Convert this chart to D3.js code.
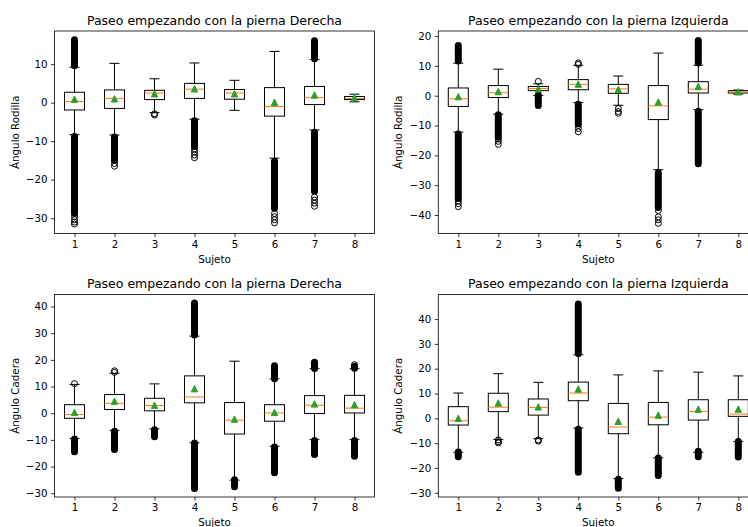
<!DOCTYPE html>
<html>
<head>
<meta charset="utf-8">
<script src="https://cdn.jsdelivr.net/npm/d3@7"></script>
<style>
  html, body { margin: 0; padding: 0; background: #fff; }
  svg { display: block; }
  text { font-family: "DejaVu Sans", sans-serif; fill: #000; }
</style>
</head>
<body>
<svg id="chart" width="748" height="527"></svg>
<script>
// Sujetos (categorías del eje x)
const subjects = [1, 2, 3, 4, 5, 6, 7, 8];

// Ángulo Rodilla — pierna Derecha
const rodDerQ1   = [-1.9, -1.5, 0.8, 1.1, 0.9, -3.5, -0.5, 0.8];
const rodDerMed  = [0.3, 1.1, 2.5, 3.5, 2.5, -1.0, 1.3, 1.1];
const rodDerQ3   = [2.7, 3.3, 3.2, 5.0, 3.4, 3.9, 4.2, 1.6];
const rodDerLo   = [-8.3, -8.4, -2.6, -4.3, -2.0, -14.4, -7.1, 0.2];
const rodDerHi   = [9.2, 10.2, 6.2, 10.3, 5.8, 13.3, 11.2, 2.2];
const rodDerMean = [0.9, 1.0, 2.3, 3.6, 2.3, 0.1, 2.0, 1.3];
// atípicos: tramos densos [sujeto, desde, hasta] y puntos sueltos [sujeto, valor]
const rodDerBands = [[1, 9.6, 16.3], [1, -8.8, -28.8], [2, -8.9, -15.0], [4, -4.7, -11.4],
                     [6, -15.2, -27.4], [7, 11.4, 16.1], [7, -7.7, -23.0]];
const rodDerPoints = [[1, -29.6], [1, -30.4], [1, -31.0], [1, -31.5], [2, -15.8], [2, -16.5],
                      [3, -2.9], [3, -3.2], [4, -12.0], [4, -12.8], [4, -13.6], [4, -14.3],
                      [6, -28.8], [6, -29.6], [6, -30.4], [6, -31.2],
                      [7, -24.5], [7, -25.3], [7, -26.1], [7, -26.9]];

// Ángulo Rodilla — pierna Izquierda
const rodIzqQ1   = [-3.6, -0.6, 1.7, 2.0, 0.8, -8.0, 0.9, 0.9];
const rodIzqMed  = [-1.0, 1.0, 2.4, 3.8, 2.3, -3.4, 2.2, 1.3];
const rodIzqQ3   = [2.6, 3.4, 3.1, 5.4, 3.8, 3.4, 4.7, 1.7];
const rodIzqLo   = [-12.2, -6.2, 0.1, -2.3, -3.2, -24.8, -4.7, 0.5];
const rodIzqHi   = [10.9, 8.9, 4.0, 10.2, 6.6, 14.3, 10.2, 1.9];
const rodIzqMean = [-0.3, 1.4, 2.3, 3.9, 2.1, -2.1, 3.1, 1.3];
const rodIzqBands = [[1, 11.6, 16.8], [1, -12.8, -34.5], [2, -6.4, -13.9], [3, 0.2, -3.3],
                     [4, -2.9, -9.4], [6, -25.8, -37.5], [7, 11.0, 18.5], [7, -5.2, -22.8]];
const rodIzqPoints = [[1, -35.3], [1, -36.2], [1, -37.2], [2, -14.5], [2, -15.3], [2, -16.3],
                      [3, 4.8], [4, 10.5], [4, 11.0], [4, -10.0], [4, -11.0], [4, -12.1],
                      [5, -4.3], [5, -5.3], [5, -5.9],
                      [6, -38.5], [6, -40.6], [6, -41.6], [6, -42.8]];

// Ángulo Cadera — pierna Derecha
const cadDerQ1   = [-1.9, 1.4, 0.9, 3.9, -7.8, -3.0, -0.1, 0.1];
const cadDerMed  = [-0.5, 3.7, 2.9, 6.1, -2.6, 0.1, 3.0, 1.9];
const cadDerQ3   = [3.2, 7.0, 5.6, 14.0, 4.0, 3.2, 6.6, 6.7];
const cadDerLo   = [-9.5, -6.4, -5.9, -11.1, -25.1, -12.4, -9.9, -9.9];
const cadDerHi   = [10.8, 15.0, 11.0, 28.9, 19.5, 12.9, 16.7, 16.7];
const cadDerMean = [0.3, 4.5, 3.0, 9.2, -2.2, 0.3, 3.5, 3.2];
const cadDerBands = [[1, -9.7, -14.4], [2, -6.8, -13.6], [3, -6.2, -8.8], [4, 29.3, 41.3],
                     [4, -11.2, -28.2], [5, -24.9, -27.6], [6, 12.9, 17.8], [6, -12.7, -22.3],
                     [7, 16.8, 19.1], [7, -10.2, -15.5], [8, 16.9, 17.6], [8, -10.2, -16.1]];
const cadDerPoints = [[1, 11.1], [2, 15.3], [2, 15.9], [8, 18.2]];

// Ángulo Cadera — pierna Izquierda
const cadIzqQ1   = [-2.7, 2.7, 1.3, 7.1, -6.2, -2.6, -0.7, 0.8];
const cadIzqMed  = [-1.0, 4.5, 4.4, 10.2, -3.5, 0.5, 2.8, 1.7];
const cadIzqQ3   = [4.7, 10.1, 7.8, 14.6, 6.0, 6.4, 7.5, 7.5];
const cadIzqLo   = [-13.7, -8.5, -8.2, -3.9, -24.3, -15.9, -13.7, -9.3];
const cadIzqHi   = [10.2, 18.0, 14.5, 25.6, 17.5, 19.1, 18.6, 17.1];
const cadIzqMean = [0.0, 6.2, 4.6, 11.8, -1.2, 1.3, 3.7, 3.7];
const cadIzqBands = [[1, -13.6, -15.5], [4, 26.1, 46.1], [4, -4.4, -21.7], [5, -24.5, -28.2],
                     [6, -16.0, -23.0], [7, -13.3, -15.5], [8, -9.3, -15.6]];
const cadIzqPoints = [[1, -14.6], [2, -8.7], [2, -9.4], [2, -9.9], [3, -8.7], [3, -9.2]];

// Marcas del eje y
const rodDerTicks = [-30, -20, -10, 0, 10];
const rodIzqTicks = [-40, -30, -20, -10, 0, 10, 20];
const cadTicks    = [-30, -20, -10, 0, 10, 20, 30, 40];

const titleDer = "Paseo empezando con la pierna Derecha";
const titleIzq = "Paseo empezando con la pierna Izquierda";

const svg = d3.select("#chart");
svg.append("rect").attr("width", 748).attr("height", 527).attr("fill", "#fff");

const W = 320, H = 202.5;
const labelSize = 10.3, titleSize = 12.5;

const panels = [
  { left: 54.5, top: 31, domain: [-33.97, 18.6], title: titleDer, ylabel: "Ángulo Rodilla",
    q1: rodDerQ1, med: rodDerMed, q3: rodDerQ3, lo: rodDerLo, hi: rodDerHi, mean: rodDerMean,
    bands: rodDerBands, points: rodDerPoints, ticks: rodDerTicks },
  { left: 438.3, top: 31, domain: [-46.2, 21.7], title: titleIzq, ylabel: "Ángulo Rodilla",
    q1: rodIzqQ1, med: rodIzqMed, q3: rodIzqQ3, lo: rodIzqLo, hi: rodIzqHi, mean: rodIzqMean,
    bands: rodIzqBands, points: rodIzqPoints, ticks: rodIzqTicks },
  { left: 54.5, top: 294.5, domain: [-31.4, 44.5], title: titleDer, ylabel: "Ángulo Cadera",
    q1: cadDerQ1, med: cadDerMed, q3: cadDerQ3, lo: cadDerLo, hi: cadDerHi, mean: cadDerMean,
    bands: cadDerBands, points: cadDerPoints, ticks: cadTicks },
  { left: 438.3, top: 294.5, domain: [-31.7, 49.9], title: titleIzq, ylabel: "Ángulo Cadera",
    q1: cadIzqQ1, med: cadIzqMed, q3: cadIzqQ3, lo: cadIzqLo, hi: cadIzqHi, mean: cadIzqMean,
    bands: cadIzqBands, points: cadIzqPoints, ticks: cadTicks }
];

panels.forEach((p, i) => {
  const x = d3.scaleLinear().domain([0.5, 8.5]).range([p.left, p.left + W]);
  const y = d3.scaleLinear().domain(p.domain).range([p.top + H, p.top]);
  const boxHalf = (x(1.25) - x(1));         // box width 0.5
  const capHalf = boxHalf / 2;              // caps are half the box width

  const clipId = "clip" + i;
  svg.append("clipPath").attr("id", clipId)
    .append("rect").attr("x", p.left).attr("y", p.top).attr("width", W).attr("height", H);

  const g = svg.append("g").attr("clip-path", `url(#${clipId})`);
  const rows = subjects.map((s, k) => ({
    s, q1: p.q1[k], med: p.med[k], q3: p.q3[k], lo: p.lo[k], hi: p.hi[k], mean: p.mean[k]
  }));

  // boxes
  g.selectAll("rect.box").data(rows).join("rect")
    .attr("x", d => x(d.s) - boxHalf).attr("width", boxHalf * 2)
    .attr("y", d => y(d.q3)).attr("height", d => Math.max(0.5, y(d.q1) - y(d.q3)))
    .attr("fill", "none").attr("stroke", "#000").attr("stroke-width", 1);

  // medians
  g.selectAll("line.med").data(rows).join("line")
    .attr("x1", d => x(d.s) - boxHalf).attr("x2", d => x(d.s) + boxHalf)
    .attr("y1", d => y(d.med)).attr("y2", d => y(d.med))
    .attr("stroke", "#ff7f0e").attr("stroke-width", 1);

  // whiskers
  g.selectAll("line.wu").data(rows).join("line")
    .attr("x1", d => x(d.s)).attr("x2", d => x(d.s))
    .attr("y1", d => y(d.q3)).attr("y2", d => y(d.hi))
    .attr("stroke", "#000").attr("stroke-width", 1);
  g.selectAll("line.wl").data(rows).join("line")
    .attr("x1", d => x(d.s)).attr("x2", d => x(d.s))
    .attr("y1", d => y(d.q1)).attr("y2", d => y(d.lo))
    .attr("stroke", "#000").attr("stroke-width", 1);

  // caps
  ["hi", "lo"].forEach(key => {
    g.selectAll("line.cap-" + key).data(rows).join("line")
      .attr("x1", d => x(d.s) - capHalf).attr("x2", d => x(d.s) + capHalf)
      .attr("y1", d => y(d[key])).attr("y2", d => y(d[key]))
      .attr("stroke", "#000").attr("stroke-width", 1);
  });

  // fliers: dense runs of overlapping circles
  g.selectAll("line.band").data(p.bands).join("line")
    .attr("x1", d => x(d[0])).attr("x2", d => x(d[0]))
    .attr("y1", d => y(d[1])).attr("y2", d => y(d[2]))
    .attr("stroke", "#000").attr("stroke-width", 7).attr("stroke-linecap", "round");

  // fliers: individual circles
  g.selectAll("circle.flier").data(p.points).join("circle")
    .attr("cx", d => x(d[0])).attr("cy", d => y(d[1])).attr("r", 3)
    .attr("fill", "none").attr("stroke", "#000").attr("stroke-width", 1);

  // means
  g.selectAll("path.mean").data(rows).join("path")
    .attr("transform", d => `translate(${x(d.s)},${y(d.mean)})`)
    .attr("d", "M0,-3.2L-3.2,3.2L3.2,3.2Z")
    .attr("fill", "#2ca02c").attr("stroke", "#2ca02c").attr("stroke-width", 1);

  // frame
  svg.append("rect").attr("x", p.left).attr("y", p.top).attr("width", W).attr("height", H)
    .attr("fill", "none").attr("stroke", "#000").attr("stroke-width", 0.8);

  // axes
  const yAxis = svg.append("g").attr("transform", `translate(${p.left},0)`)
    .call(d3.axisLeft(y).tickValues(p.ticks).tickFormat(d3.format("d")).tickSize(3.5).tickPadding(3.5));
  const xAxis = svg.append("g").attr("transform", `translate(0,${p.top + H})`)
    .call(d3.axisBottom(x).tickValues(subjects).tickFormat(d3.format("d")).tickSize(3.5).tickPadding(3.5));
  [yAxis, xAxis].forEach(a => {
    a.select(".domain").remove();
    a.selectAll(".tick line").attr("stroke", "#000").attr("stroke-width", 0.8);
    a.selectAll(".tick text").attr("font-size", labelSize).attr("font-family", "DejaVu Sans").attr("fill", "#000");
  });

  // title and labels
  svg.append("text").attr("x", p.left + W / 2).attr("y", p.top - 6.5)
    .attr("text-anchor", "middle").attr("font-size", titleSize).text(p.title);
  svg.append("text").attr("x", p.left + W / 2).attr("y", p.top + H + 29)
    .attr("text-anchor", "middle").attr("font-size", labelSize).text("Sujeto");
  svg.append("text")
    .attr("transform", `translate(${p.left - 36},${p.top + H / 2}) rotate(-90)`)
    .attr("text-anchor", "middle").attr("font-size", labelSize).text(p.ylabel);
});
</script>
</body>
</html>
